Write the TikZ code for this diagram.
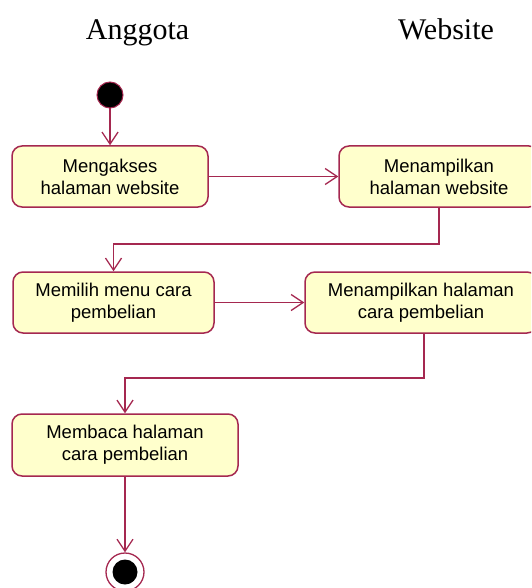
\documentclass[tikz,border=0pt]{standalone}
\usepackage{fontspec}
\setmainfont{Liberation Sans}
\newfontfamily\titlefont{Liberation Serif}
\usetikzlibrary{arrows.meta}
\definecolor{umlline}{RGB}{165,40,80}
\definecolor{umlfill}{RGB}{255,255,204}
\tikzset{
  actbox/.style={draw=umlline, fill=umlfill, line width=1.5pt, rounded corners=10pt,
    align=center, inner sep=0pt, font=\fontsize{18.5}{22}\selectfont, text=black},
  flow/.style={draw=umlline, line width=1.5pt, -{Straight Barb[length=12pt,width=16pt,line width=1.3pt]}},
  lane/.style={font=\titlefont\fontsize{30}{34}\selectfont, text=black, inner sep=0pt}
}
\begin{document}
\begin{tikzpicture}[x=1pt,y=-1pt]
\clip (0,0) rectangle (531,588);
\useasboundingbox (0,0) rectangle (531,588);
\node[lane, anchor=base] (t1) at (137.5,40) {Anggota};
\node[lane, anchor=base] (t2) at (446,40) {Website};

\node[circle, fill=black, draw=umlline, line width=1pt, minimum size=26pt, inner sep=0pt] (start) at (110,95) {};

\node[actbox, minimum width=196pt, minimum height=61pt] (b1) at (110,176.5) {Mengakses\\halaman website};
\node[actbox, minimum width=200pt, minimum height=61pt] (b2) at (439,176.5) {Menampilkan\\halaman website};
\node[actbox, minimum width=201pt, minimum height=61pt] (b3) at (113.5,302.5) {Memilih menu cara\\pembelian};
\node[actbox, minimum width=232pt, minimum height=61pt] (b4) at (421,302.5) {Menampilkan halaman\\cara pembelian};
\node[actbox, minimum width=226pt, minimum height=62pt] (b5) at (125,445) {Membaca halaman\\cara pembelian};

\node[circle, draw=umlline, fill=white, line width=1.3pt, minimum size=38pt, inner sep=0pt] (end) at (125,572) {};
\node[circle, fill=black, minimum size=25pt, inner sep=0pt] (endin) at (end.center) {};

\draw[flow] (start) -- (b1);
\draw[flow] (b1) -- (b2);
\draw[flow] (b2.south) -- ++(0,36) coordinate (c1) -| (b3.north);
\draw[flow] (b3) -- (b4);
\draw[flow] ([xshift=3pt]b4.south) -- ++(0,44) coordinate (c2) -| (b5.north);
\draw[flow] (b5) -- (end);
\end{tikzpicture}
\end{document}
